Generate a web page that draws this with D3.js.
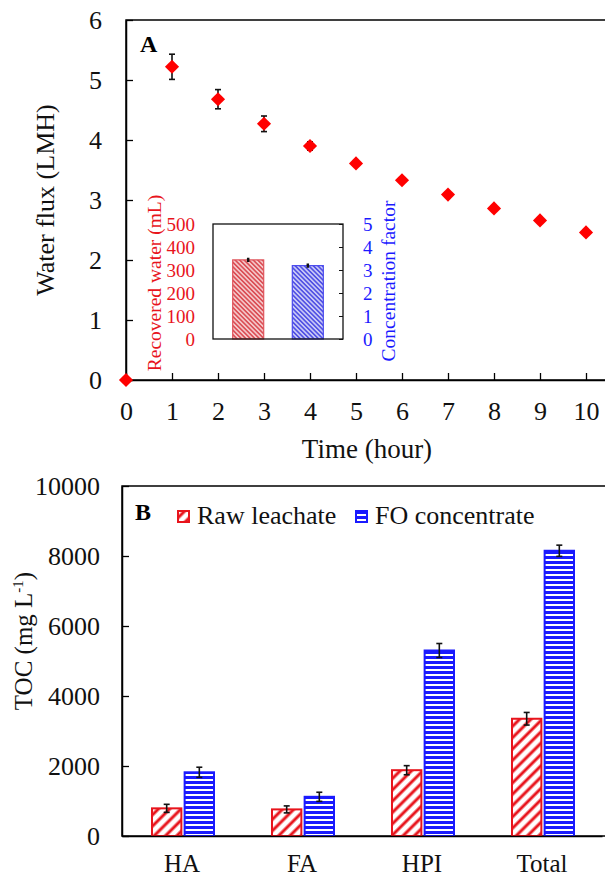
<!DOCTYPE html>
<html>
<head>
<meta charset="utf-8">
<script src="https://cdn.jsdelivr.net/npm/d3@7"></script>
<style>
  body { margin: 0; background: #fff; }
  svg, svg text { font-family: "Liberation Serif", "Times New Roman", serif !important; }
</style>
</head>
<body>
<div class="vis"></div>
<script>
// Panel A data: water flux over time.
const hours = [0, 1, 2, 3, 4, 5, 6, 7, 8, 9, 10];
const flux = [0, 5.22, 4.68, 4.27, 3.90, 3.61, 3.33, 3.09, 2.86, 2.66, 2.46];
const fluxErr = [0, 0.21, 0.16, 0.13, 0.07, 0.03, 0.03, 0.02, 0.02, 0.02, 0.02];
const fluxTicks = [0, 1, 2, 3, 4, 5, 6];

// Inset data.
const insetKeys = ['water', 'factor'];
const recoveredWater = [344];
const recoveredErr = [5];
const concFactor = [3.19];
const concErr = [0.05];
const insetLeftTicks = [0, 100, 200, 300, 400, 500];
const insetRightTicks = [0, 1, 2, 3, 4, 5];

// Panel B data: TOC fractions.
const categories = ['HA', 'FA', 'HPI', 'Total'];
const seriesNames = ['Raw leachate', 'FO concentrate'];
const rawLeachate = [790, 760, 1880, 3350];
const rawErr = [115, 100, 130, 180];
const foConcentrate = [1820, 1120, 5300, 8150];
const foErr = [145, 130, 200, 160];
const tocTicks = [0, 2000, 4000, 6000, 8000, 10000];

const width = 605;
const height = 877;
const serif = '"Liberation Serif", "Times New Roman", serif';
const fmt = d3.format('d');

const svg = d3.select('.vis')
              .append('svg')
              .attr('width', width)
              .attr('height', height)
              .attr('font-family', serif);

svg.append('rect').attr('width', width).attr('height', height).attr('fill', '#fff');

// Hatch patterns.
const defs = svg.append('defs');
function hatch(id, size, color, lineW, angle, bg) {
    const p = defs.append('pattern')
        .attr('id', id)
        .attr('patternUnits', 'userSpaceOnUse')
        .attr('width', size).attr('height', size)
        .attr('patternTransform', `rotate(${angle})`);
    p.append('rect').attr('width', size).attr('height', size).attr('fill', bg);
    p.append('line')
        .attr('x1', size / 2).attr('y1', 0)
        .attr('x2', size / 2).attr('y2', size)
        .attr('stroke', color).attr('stroke-width', lineW);
}
hatch('redB', 8, '#e8141c', 3, 45, '#fff');
hatch('blueB', 5, '#1a1aff', 3, 90, '#fff');
hatch('redIn', 3.2, '#d6333b', 1.3, -45, '#f4c7c9');
hatch('blueIn', 3.2, '#3535e0', 1.3, -45, '#c9c9f6');

function styleAxis(ax, size) {
    ax.attr('font-family', serif);
    ax.select('.domain').attr('stroke', '#000').attr('stroke-width', 1.5);
    ax.selectAll('.tick line').attr('stroke', '#000').attr('stroke-width', 1.3);
    ax.selectAll('.tick text').attr('font-size', size).attr('fill', '#111')
      .style('font-family', serif);
}

// ---------------- Panel A ----------------
const xA = d3.scaleLinear().domain([0, 10.5]).range([126, 609]);
const yA = d3.scaleLinear().domain([0, 6]).range([380, 20]);

svg.append('rect')
   .attr('x', xA(0)).attr('y', yA(6))
   .attr('width', xA(10.5) - xA(0)).attr('height', yA(0) - yA(6))
   .attr('fill', 'none').attr('stroke', '#000').attr('stroke-width', 1.5);

const axA_x = svg.append('g')
   .attr('transform', `translate(0,${yA(0)})`)
   .call(d3.axisBottom(xA).tickValues(hours).tickFormat(fmt).tickSizeInner(-7).tickSizeOuter(0).tickPadding(22));
const axA_y = svg.append('g')
   .attr('transform', `translate(${xA(0)},0)`)
   .call(d3.axisLeft(yA).tickValues(fluxTicks).tickFormat(fmt).tickSizeInner(-7).tickSizeOuter(0).tickPadding(24));
styleAxis(axA_x, 26);
styleAxis(axA_y, 26);

svg.append('text')
   .attr('x', 140).attr('y', 52)
   .attr('font-size', 24).attr('font-weight', 'bold')
   .text('A');

svg.append('text')
   .attr('transform', `translate(54,${(yA(0) + yA(6)) / 2}) rotate(-90)`)
   .attr('text-anchor', 'middle')
   .attr('font-size', 26).attr('fill', '#111')
   .text('Water flux (LMH)');

svg.append('text')
   .attr('x', 367).attr('y', 458)
   .attr('text-anchor', 'middle')
   .attr('font-size', 27).attr('fill', '#111')
   .text('Time (hour)');

// Error bars for flux.
const errA = svg.append('g').attr('stroke', '#111').attr('stroke-width', 1.6);
hours.forEach((h, i) => {
    if (fluxErr[i] <= 0) return;
    const cx = xA(h);
    const y1 = yA(flux[i] + fluxErr[i]);
    const y2 = yA(flux[i] - fluxErr[i]);
    errA.append('line').attr('x1', cx).attr('x2', cx).attr('y1', y1).attr('y2', y2);
    errA.append('line').attr('x1', cx - 3).attr('x2', cx + 3).attr('y1', y1).attr('y2', y1);
    errA.append('line').attr('x1', cx - 3).attr('x2', cx + 3).attr('y1', y2).attr('y2', y2);
});

// Diamond markers.
const diamond = d3.symbol().type(d3.symbolSquare).size(100);
svg.append('g').selectAll('path')
   .data(hours)
   .join('path')
   .attr('d', diamond)
   .attr('transform', (h, i) => `translate(${xA(h)},${yA(flux[i])}) rotate(45)`)
   .attr('fill', '#ff0000');

// ---------------- Inset ----------------
const xIn = d3.scaleBand().domain(insetKeys).range([213, 343]).paddingInner(0.48).paddingOuter(0.33);
const yInL = d3.scaleLinear().domain([0, 500]).range([339, 224]);
const yInR = d3.scaleLinear().domain([0, 5]).range([339, 224]);

const inBars = [
    { key: 'water', y: yInL(recoveredWater[0]), yHi: yInL(recoveredWater[0] + recoveredErr[0]), yLo: yInL(recoveredWater[0] - recoveredErr[0]), fill: 'url(#redIn)', stroke: '#e0555c' },
    { key: 'factor', y: yInR(concFactor[0]), yHi: yInR(concFactor[0] + concErr[0]), yLo: yInR(concFactor[0] - concErr[0]), fill: 'url(#blueIn)', stroke: '#4a4aee' }
];
svg.append('g').selectAll('rect')
   .data(inBars)
   .join('rect')
   .attr('x', d => xIn(d.key))
   .attr('y', d => d.y)
   .attr('width', xIn.bandwidth())
   .attr('height', d => 339 - d.y)
   .attr('fill', d => d.fill)
   .attr('stroke', d => d.stroke)
   .attr('stroke-width', 1.2);
inBars.forEach(d => {
    const cx = xIn(d.key) + xIn.bandwidth() / 2;
    svg.append('line').attr('x1', cx).attr('x2', cx).attr('y1', d.yHi - 1).attr('y2', d.yLo + 1)
       .attr('stroke', '#111').attr('stroke-width', 2.5);
});

svg.append('rect')
   .attr('x', 213).attr('y', 224).attr('width', 130).attr('height', 115)
   .attr('fill', 'none').attr('stroke', '#111').attr('stroke-width', 1.3);

const inL = svg.append('g').attr('transform', 'translate(213,0)')
   .call(d3.axisLeft(yInL).tickValues(insetLeftTicks).tickFormat(fmt).tickSize(0).tickPadding(18));
inL.select('.domain').remove();
inL.attr('font-family', serif);
inL.selectAll('.tick text').attr('font-size', 19).attr('fill', '#e8141c').style('font-family', serif);

const inR = svg.append('g').attr('transform', 'translate(343,0)')
   .call(d3.axisRight(yInR).tickValues(insetRightTicks).tickFormat(fmt).tickSizeInner(-4).tickSizeOuter(0).tickPadding(20));
inR.select('.domain').remove();
inR.attr('font-family', serif);
inR.selectAll('.tick line').attr('stroke', '#111');
inR.selectAll('.tick text').attr('font-size', 19).attr('fill', '#1a1aff').style('font-family', serif);

svg.append('text')
   .attr('transform', 'translate(161,283) rotate(-90)')
   .attr('text-anchor', 'middle')
   .attr('font-size', 19.5).attr('fill', '#e8141c')
   .text('Recovered water (mL)');
svg.append('text')
   .attr('transform', 'translate(395,281) rotate(-90)')
   .attr('text-anchor', 'middle')
   .attr('font-size', 19.5).attr('fill', '#1a1aff')
   .text('Concentration factor');

// ---------------- Panel B ----------------
const x0 = d3.scaleBand().domain(categories).range([122, 602]);
const x1 = d3.scaleBand().domain(seriesNames).range([30, 92]).paddingInner(0.1);
const yB = d3.scaleLinear().domain([0, 10000]).range([836, 486]);

svg.append('rect')
   .attr('x', 122).attr('y', yB(10000))
   .attr('width', 610 - 122).attr('height', yB(0) - yB(10000))
   .attr('fill', 'none').attr('stroke', '#000').attr('stroke-width', 1.5);

const seriesB = [
    { name: seriesNames[0], vals: rawLeachate, errs: rawErr, fill: 'url(#redB)', stroke: '#e8141c' },
    { name: seriesNames[1], vals: foConcentrate, errs: foErr, fill: 'url(#blueB)', stroke: '#1a1aff' }
];

seriesB.forEach(s => {
    svg.append('g').selectAll('rect')
       .data(categories)
       .join('rect')
       .attr('x', c => x0(c) + x1(s.name))
       .attr('y', (c, i) => yB(s.vals[i]))
       .attr('width', x1.bandwidth())
       .attr('height', (c, i) => yB(0) - yB(s.vals[i]))
       .attr('fill', s.fill)
       .attr('stroke', s.stroke)
       .attr('stroke-width', 2);
});

const errB = svg.append('g').attr('stroke', '#111').attr('stroke-width', 1.6);
seriesB.forEach(s => {
    categories.forEach((c, i) => {
        const cx = x0(c) + x1(s.name) + x1.bandwidth() / 2;
        const y1 = yB(s.vals[i] + s.errs[i]);
        const y2 = yB(s.vals[i] - s.errs[i]);
        errB.append('line').attr('x1', cx).attr('x2', cx).attr('y1', y1).attr('y2', y2);
        errB.append('line').attr('x1', cx - 3).attr('x2', cx + 3).attr('y1', y1).attr('y2', y1);
        errB.append('line').attr('x1', cx - 3).attr('x2', cx + 3).attr('y1', y2).attr('y2', y2);
    });
});

const axB_x = svg.append('g')
   .attr('transform', `translate(0,${yB(0)})`)
   .call(d3.axisBottom(x0).tickSize(0).tickPadding(23));
const axB_y = svg.append('g')
   .attr('transform', 'translate(122,0)')
   .call(d3.axisLeft(yB).tickValues(tocTicks).tickFormat(fmt).tickSizeInner(-7).tickSizeOuter(0).tickPadding(22));
styleAxis(axB_x, 25);
styleAxis(axB_y, 26);
axB_x.selectAll('.tick text').attr('dy', '0.5em');

svg.append('text')
   .attr('transform', 'translate(32,641) rotate(-90)')
   .attr('text-anchor', 'middle')
   .attr('font-size', 25).attr('fill', '#111')
   .call(t => {
       t.append('tspan').text('TOC (mg L');
       t.append('tspan').attr('font-size', 15).attr('dy', -9).text('-1');
       t.append('tspan').attr('dy', 9).text(')');
   });

svg.append('text')
   .attr('x', 135).attr('y', 520)
   .attr('font-size', 24).attr('font-weight', 'bold')
   .text('B');

// Legend.
const legendX = [178, 356];
seriesB.forEach((s, i) => {
    svg.append('rect')
       .attr('x', legendX[i]).attr('y', 511)
       .attr('width', 11).attr('height', 11)
       .attr('fill', s.fill).attr('stroke', s.stroke).attr('stroke-width', 2);
    svg.append('text')
       .attr('x', legendX[i] + 19).attr('y', 524)
       .attr('font-size', 26).attr('fill', '#111')
       .text(s.name);
});
</script>
</body>
</html>
